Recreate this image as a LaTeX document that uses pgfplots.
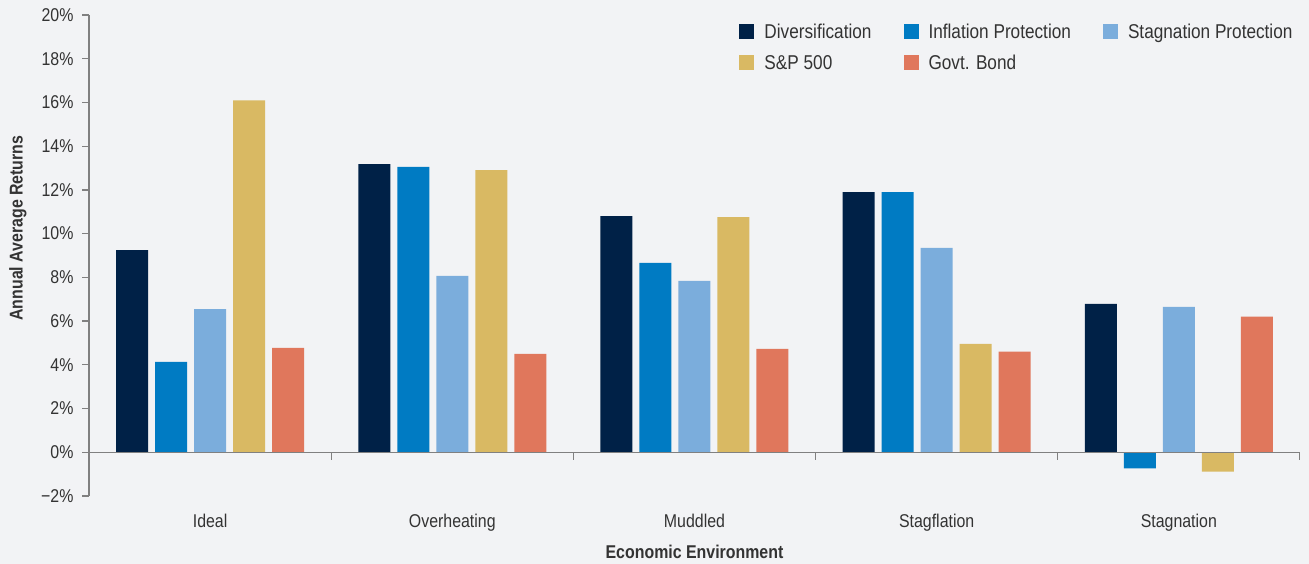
\documentclass[border=0pt]{standalone}
\usepackage{pgfplots}
\pgfplotsset{compat=1.18}
\usepackage{fontspec}
\setmainfont{Liberation Sans}[FakeStretch=0.86]
\definecolor{bg}{HTML}{F2F3F5}
\definecolor{cDiv}{HTML}{002147}
\definecolor{cInf}{HTML}{007BC3}
\definecolor{cStag}{HTML}{7BADDC}
\definecolor{cSP}{HTML}{D9B963}
\definecolor{cGov}{HTML}{E0775C}
\definecolor{axgray}{HTML}{808080}
\definecolor{txt}{HTML}{333333}
\begin{document}
\begin{tikzpicture}
\fill[bg] (0pt,0pt) rectangle (1309pt,564pt);
\begin{axis}[
  at={(89pt,68pt)}, anchor=south west,
  scale only axis, width=1211pt, height=481pt,
  xmin=-0.5, xmax=4.5, ymin=-2, ymax=20,
  axis x line*=bottom, axis y line*=left,
  x axis line style={draw=none},
  y axis line style={axgray, line width=1.2pt},
  xtick={0,1,2,3,4},
  xticklabels={Ideal,Overheating,Muddled,Stagflation,Stagnation},
  xtick style={draw=none},
  ytick={-2,0,2,4,6,8,10,12,14,16,18,20},
  yticklabels={−2\%,0\%,2\%,4\%,6\%,8\%,10\%,12\%,14\%,16\%,18\%,20\%},
  ytick style={axgray, line width=1.2pt},
  tick align=outside, major tick length=7pt,
  ticklabel style={font=\fontsize{18.5}{21}\selectfont, text=txt},
  xticklabel style={anchor=base, yshift=-25pt},
  yticklabel style={anchor=east, xshift=-5pt},
  ylabel={\bfseries Annual Average Returns},
  ylabel style={at={(rel axis cs:0,0.557)}, anchor=center, yshift=71pt, font=\fontsize{18.5}{21}\selectfont, text=txt},
  xlabel={\bfseries Economic Environment},
  xlabel style={at={(rel axis cs:0.5,0)}, anchor=base, yshift=-63pt, font=\fontsize{18.5}{21}\selectfont, text=txt},
  ybar=7pt, bar width=32pt,
  legend image code/.code={\path[#1] (0pt,-7.5pt) rectangle (15pt,7.5pt); \path (21pt,0pt);},
  legend style={at={(rel axis cs:0.537,0.99)}, anchor=north west, draw=none, fill=none,
    font=\fontsize{20}{23}\selectfont, text=txt, inner sep=0pt,
    nodes={inner sep=4pt}, row sep=7pt,
    /tikz/every even column/.append style={column sep=28pt}},
  legend columns=3, legend cell align=left,
]
\addplot[fill=cDiv, draw=none] coordinates {(0,9.25) (1,13.18) (2,10.8) (3,11.9) (4,6.79)};
\addplot[fill=cInf, draw=none] coordinates {(0,4.13) (1,13.05) (2,8.66) (3,11.9) (4,-0.74)};
\addplot[fill=cStag, draw=none] coordinates {(0,6.55) (1,8.07) (2,7.84) (3,9.35) (4,6.65)};
\addplot[fill=cSP, draw=none] coordinates {(0,16.1) (1,12.9) (2,10.76) (3,4.96) (4,-0.88)};
\addplot[fill=cGov, draw=none] coordinates {(0,4.77) (1,4.5) (2,4.73) (3,4.6) (4,6.2)};
\legend{Diversification,Inflation Protection,Stagnation Protection,S\&P 500,Govt. Bond}
\draw[axgray, line width=1.2pt] (axis cs:-0.5,0) -- (axis cs:4.5,0);
\pgfplotsinvokeforeach{0.5,1.5,2.5,3.5,4.5}{\draw[axgray, line width=1.2pt] (axis cs:#1,0) -- ++(0pt,-8pt);}
\end{axis}
\pgfresetboundingbox
\path (0pt,0pt) rectangle (1309pt,564pt);
\end{tikzpicture}
\end{document}
